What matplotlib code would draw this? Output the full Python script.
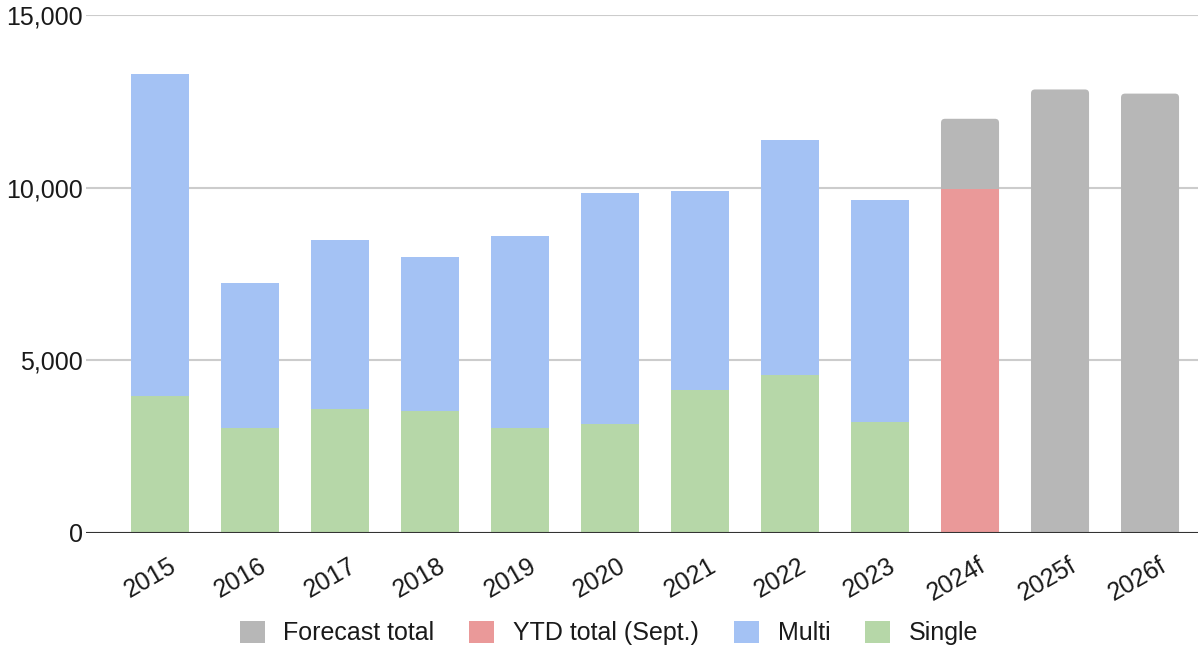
import matplotlib
matplotlib.use("Agg")
import matplotlib.pyplot as plt
from matplotlib.patches import Patch, FancyBboxPatch
import matplotlib.transforms as mtransforms
import numpy as np

plt.rcParams['font.family'] = ['Liberation Sans', 'DejaVu Sans']

years = ["2015", "2016", "2017", "2018", "2019", "2020", "2021", "2022", "2023", "2024f", "2025f", "2026f"]
single = [3960, 3040, 3590, 3530, 3040, 3150, 4140, 4570, 3220, 0, 0, 0]
multi = [9340, 4200, 4890, 4450, 5560, 6690, 5760, 6810, 6420, 0, 0, 0]
ytd_total = [0, 0, 0, 0, 0, 0, 0, 0, 0, 9960, 0, 0]
forecast_total = [0, 0, 0, 0, 0, 0, 0, 0, 0, 12000, 12850, 12730]
yticks = [0, 5000, 10000, 15000]

c_gray = "#b7b7b7"
c_red = "#ea9999"
c_blue = "#a4c2f4"
c_green = "#b6d7a8"

W, H = 1198, 647
fig = plt.figure(figsize=(W / 100, H / 100), dpi=100)
ax = fig.add_axes([86 / W, 114.3 / H, (W - 86) / W, (532.7 - 15.3) / H])

x = np.arange(len(years))
bw = 0.645
ax.set_xlim(-0.822, 11.533)
ax.set_ylim(0, 15000)

# forecast bars with slightly rounded tops
gray_bars = ax.bar(x, forecast_total, bw, color=c_gray, zorder=2, linewidth=0)
r_x = 0.045
r_y = r_x * (15000 / 517.4) / (1 / 90)
for p in gray_bars.patches:
    if p.get_height() <= 0:
        continue
    p.set_visible(False)
    fb = FancyBboxPatch((p.get_x(), p.get_y() - 2 * r_y), p.get_width(), p.get_height() + 2 * r_y,
                        boxstyle=f"round,pad=0,rounding_size={r_x}",
                        mutation_aspect=r_y / r_x, facecolor=c_gray, linewidth=0, zorder=2)
    ax.add_patch(fb)

ax.bar(x, ytd_total, bw, color=c_red, zorder=3, linewidth=0)
ax.bar(x, single, bw, color=c_green, zorder=3, linewidth=0)
ax.bar(x, multi, bw, bottom=single, color=c_blue, zorder=3, linewidth=0)

ax.set_yticks(yticks)
ax.set_yticklabels([f"{v:,}" for v in yticks], fontsize=18, color="#1a1a1a")
ax.yaxis.grid(True, color="#cccccc", linewidth=1.5, zorder=0)
ax.axhline(0, color="#333333", linewidth=1.5, zorder=5)
ax.tick_params(axis='y', length=0, pad=2)
ax.tick_params(axis='x', length=0, pad=15)
ax.set_xticks(x)
ax.set_xticklabels(years, rotation=30, ha='right', va='top', rotation_mode='anchor',
                   fontsize=18, color="#1a1a1a")
offset = mtransforms.ScaledTranslation(8 / 100, 0, fig.dpi_scale_trans)
for lbl in ax.get_xticklabels():
    lbl.set_transform(lbl.get_transform() + offset)

for s in ax.spines.values():
    s.set_visible(False)
ax.set_axisbelow(True)

handles = [Patch(facecolor=c_gray, label="Forecast total"),
           Patch(facecolor=c_red, label="YTD total (Sept.)"),
           Patch(facecolor=c_blue, label="Multi"),
           Patch(facecolor=c_green, label="Single")]
fig.legend(handles=handles, loc='center', bbox_to_anchor=(609 / W, 1 - 633 / H), ncol=4,
           frameon=False, fontsize=18, handlelength=1.0, handleheight=1.0,
           handletextpad=0.75, columnspacing=1.4, labelcolor="#1a1a1a")

fig.savefig("out.png", dpi=100)
